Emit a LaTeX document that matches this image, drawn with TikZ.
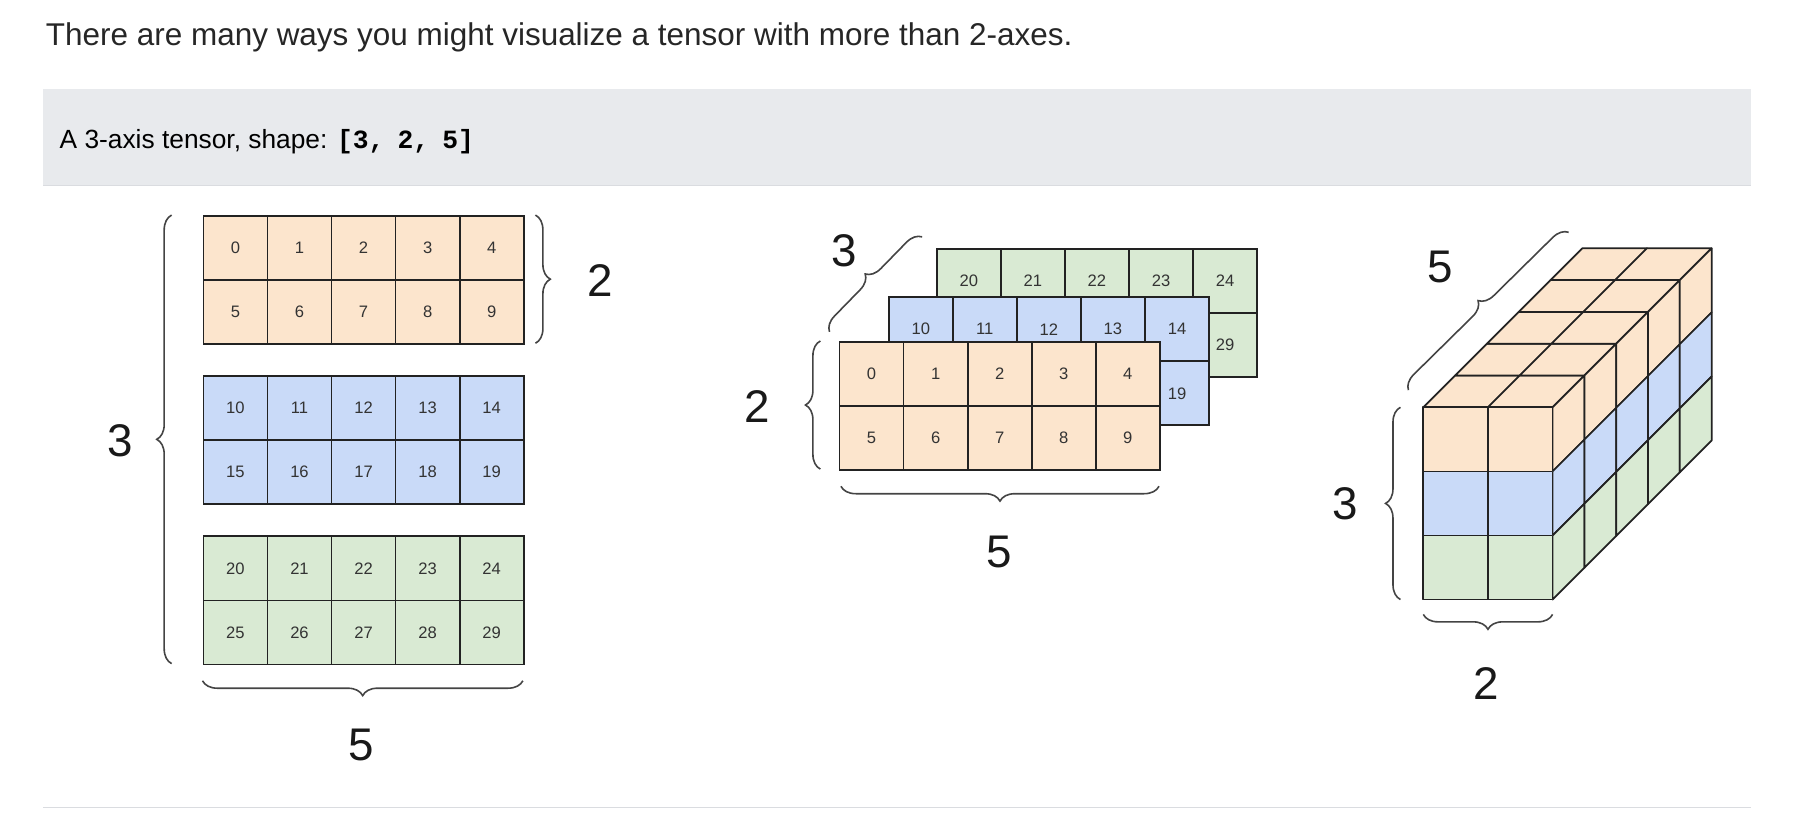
\documentclass[tikz,border=0pt]{standalone}
\usepackage{fontspec}
\setmainfont{Liberation Sans}
\setmonofont{Liberation Mono}
\usetikzlibrary{decorations.pathreplacing}
\definecolor{cor}{HTML}{FCE5CD}
\definecolor{cbl}{HTML}{C9DAF8}
\definecolor{cgr}{HTML}{D9EAD3}
\definecolor{lc}{HTML}{222222}
\definecolor{txt}{HTML}{333333}
\definecolor{bc}{HTML}{444444}
\definecolor{bar}{HTML}{E8EAED}
\definecolor{rule}{HTML}{DADCE0}
\newcommand\tgrid[5]{%
  \foreach \r in {0,1} {\foreach \c in {0,...,4} {%
    \pgfmathtruncatemacro\v{#4+5*\r+\c}%
    \node[cell,fill=#3,anchor=north west] (#5\v) at ({#1+56*\c},{#2+56*\r}) {\v};}}}
\begin{document}
\begin{tikzpicture}[x=1pt,y=-1pt,
  cell/.style={draw=lc,line width=1.5pt,minimum width=56pt,minimum height=56pt,inner sep=0pt,font=\fontsize{14.5}{14.5}\selectfont,text=txt},
  br/.style={decorate,decoration={brace,amplitude=13pt},draw=bc,line width=1.4pt},
  big/.style={font=\fontsize{40}{40}\selectfont,text=black!90},
  cf/.style={draw=lc,line width=1.5pt,line join=round}]
\useasboundingbox (0,0) rectangle (1568,731);
\node[anchor=base west,inner sep=0pt,font=\fontsize{27.5}{27.5}\selectfont,text=black!85] (title) at (40,40) {There are many ways you might visualize a tensor with more than 2-axes.};
\fill[bar] (38,78) rectangle (1530,162);
\draw[rule,line width=1pt] (38,162) -- (1530,162);
\draw[rule,line width=1pt] (38,706) -- (1530,706);
\node[anchor=base west,inner sep=0pt,font=\fontsize{23}{23}\selectfont] (cap) at (52,130) {A 3-axis tensor, shape: \texttt{\bfseries [3,\,\,\,2,\,\,\,5]}};
% left
\tgrid{177}{188}{cor}{0}{a}
\tgrid{177}{328}{cbl}{10}{a}
\tgrid{177}{468}{cgr}{20}{a}
\coordinate (l3a) at (150,580); \coordinate (l3b) at (150,188);
\draw[br] (l3a) -- (l3b);
\node[big] (t3) at (105,385) {3};
\coordinate (l2a) at (468,188); \coordinate (l2b) at (468,300);
\draw[br] (l2a) -- (l2b);
\node[big] (t2) at (525,245) {2};
\coordinate (l5a) at (457,595); \coordinate (l5b) at (177,595);
\draw[br] (l5a) -- (l5b);
\node[big] (t5) at (316,651) {5};
% middle
\tgrid{818}{217}{cgr}{20}{g}
\tgrid{776}{259}{cbl}{10}{b}
\tgrid{733}{298}{cor}{0}{o}
\coordinate (m3a) at (725,290); \coordinate (m3b) at (806,207);
\draw[br] (m3a) -- (m3b);
\node[big] (u3) at (738,219) {3};
\coordinate (m2a) at (717,410); \coordinate (m2b) at (717,298);
\draw[br] (m2a) -- (m2b);
\node[big] (u2) at (662,355) {2};
\coordinate (m5a) at (1013,425); \coordinate (m5b) at (735,425);
\draw[br] (m5a) -- (m5b);
\node[big] (u5) at (873,482) {5};
% cube
\def\w{56.5}\def\h{56}\def\d{27.8}
\foreach \i in {0,1} {\foreach \k in {0,...,4} {
  \filldraw[cf,fill=cor] ({1244+\w*\i+\d*\k},{356-\d*\k}) -- ++(\w,0) -- ++(\d,-\d) -- ++(-\w,0) -- cycle;}}
\foreach \j/\col in {0/cor,1/cbl,2/cgr} {\foreach \k in {0,...,4} {
  \filldraw[cf,fill=\col] ({1357+\d*\k},{356+\h*\j-\d*\k}) -- ++(\d,-\d) -- ++(0,\h) -- ++(-\d,\d) -- cycle;}
  \foreach \i in {0,1} {
  \filldraw[cf,fill=\col] ({1244+\w*\i},{356+\h*\j}) rectangle ++(\w,\h);}}
\coordinate (c5a) at (1231,341); \coordinate (c5b) at (1371,203);
\draw[br] (c5a) -- (c5b);
\node[big] (v5) at (1259,233) {5};
\coordinate (c3a) at (1224,524); \coordinate (c3b) at (1224,356);
\draw[br] (c3a) -- (c3b);
\node[big] (v3) at (1176,440) {3};
\coordinate (c2a) at (1357,537); \coordinate (c2b) at (1244,537);
\draw[br] (c2a) -- (c2b);
\node[big] (v2) at (1299,597) {2};
\end{tikzpicture}
\end{document}
